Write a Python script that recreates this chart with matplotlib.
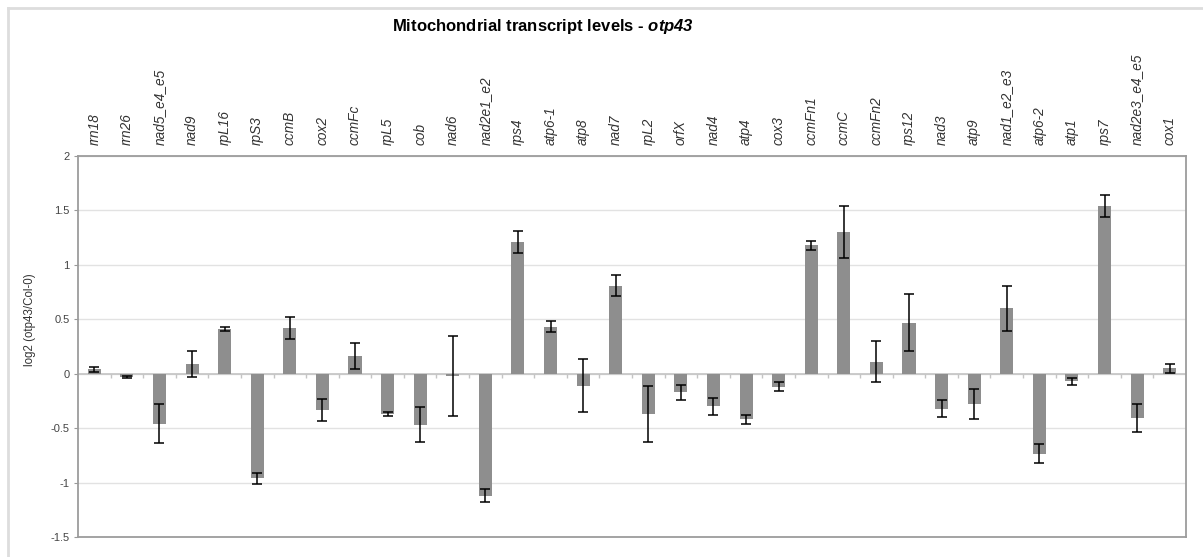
import matplotlib
matplotlib.use('Agg')
import matplotlib.pyplot as plt
import numpy as np

genes = ['rrn18', 'rrn26', 'nad5_e4_e5', 'nad9', 'rpL16', 'rpS3', 'ccmB', 'cox2',
         'ccmFc', 'rpL5', 'cob', 'nad6', 'nad2e1_e2', 'rps4', 'atp6-1', 'atp8',
         'nad7', 'rpL2', 'orfX', 'nad4', 'atp4', 'cox3', 'ccmFn1', 'ccmC',
         'ccmFn2', 'rps12', 'nad3', 'atp9', 'nad1_e2_e3', 'atp6-2', 'atp1', 'rps7',
         'nad2e3_e4_e5', 'cox1']
log2_ratio = [0.04, -0.03, -0.46, 0.09, 0.41, -0.96, 0.42, -0.33,
              0.16, -0.37, -0.47, -0.02, -1.12, 1.21, 0.43, -0.11,
              0.81, -0.37, -0.17, -0.30, -0.42, -0.12, 1.18, 1.30,
              0.11, 0.47, -0.32, -0.28, 0.60, -0.735, -0.07, 1.54,
              -0.41, 0.05]
err = [0.02, 0.01, 0.18, 0.12, 0.02, 0.05, 0.10, 0.10,
       0.12, 0.02, 0.16, 0.37, 0.06, 0.10, 0.05, 0.245,
       0.10, 0.26, 0.07, 0.08, 0.04, 0.04, 0.04, 0.24,
       0.19, 0.26, 0.08, 0.135, 0.21, 0.085, 0.03, 0.10,
       0.13, 0.04]

plt.rcParams['font.family'] = ['Liberation Sans', 'DejaVu Sans']
plt.rcParams['mathtext.fontset'] = 'custom'
plt.rcParams['mathtext.bfit'] = 'Liberation Sans:italic:bold'
plt.rcParams['mathtext.rm'] = 'Liberation Sans'

W, H = 1203, 557
fig = plt.figure(figsize=(W / 100, H / 100), dpi=100)
ax = fig.add_axes([78 / W, 20 / H, 1108 / W, 381 / H])

x = np.arange(len(genes))
ax.bar(x, log2_ratio, width=0.4, color='#8e8e8e', zorder=3)
ax.errorbar(x, log2_ratio, yerr=err, fmt='none', ecolor='black', elinewidth=1.1,
            capsize=3.6, capthick=1.1, zorder=4)

ax.set_xlim(-0.5, len(genes) - 0.5)
ax.set_ylim(-1.5, 2)
ax.set_yticks(np.arange(-1.5, 2.01, 0.5))
ax.set_yticklabels(['-1.5', '-1', '-0.5', '0', '0.5', '1', '1.5', '2'])
ax.yaxis.grid(True, color='#e2e2e2', lw=1, zorder=0)
ax.tick_params(axis='y', labelsize=8, labelcolor='#444444', length=3, color='#999999', pad=3)

# zero line with category ticks
ax.axhline(0, color='#c4c4c4', lw=1.2, zorder=2)
ax.vlines(x[:-1] + 0.5, -0.035, 0, color='#c4c4c4', lw=1, zorder=2)

# gene names on top
ax.xaxis.tick_top()
ax.set_xticks(x)
ax.set_xticklabels(genes, rotation=90, fontsize=9.8, style='italic', color='#333333')
ax.tick_params(axis='x', length=0, pad=8)

for s in ax.spines.values():
    s.set_color('#9c9c9c')
    s.set_linewidth(1.3)

ax.set_ylabel('log2 (otp43/Col-0)', fontsize=8.3, color='#333333')
ax.yaxis.set_label_coords(-0.038, 0.57)

fig.text(543 / W, 1 - 27 / H, r'Mitochondrial transcript levels - $\bfit{otp43}$',
         ha='center', va='center', fontsize=12, fontweight='bold')

# outer chart frame (top and left edges visible)
fig.add_artist(plt.Line2D([8 / W, 1], [1 - 8 / H, 1 - 8 / H], transform=fig.transFigure,
                          color='#dddddd', lw=2))
fig.add_artist(plt.Line2D([8 / W, 8 / W], [0, 1 - 8 / H], transform=fig.transFigure,
                          color='#dddddd', lw=2))

fig.savefig('out.png', dpi=100)
